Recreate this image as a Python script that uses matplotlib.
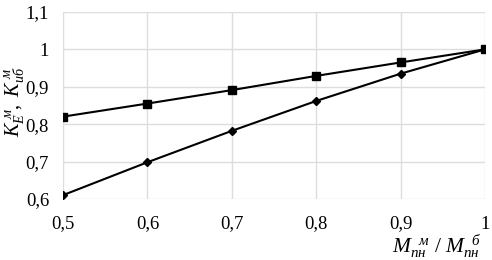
import matplotlib
matplotlib.use("Agg")
import matplotlib.pyplot as plt
from matplotlib.ticker import FuncFormatter

plt.rcParams['font.family'] = ['Liberation Serif', 'DejaVu Serif']
plt.rcParams['mathtext.fontset'] = 'custom'
plt.rcParams['mathtext.rm'] = 'Liberation Serif'
plt.rcParams['mathtext.it'] = 'Liberation Serif:italic'

# data
x = [0.5, 0.6, 0.7, 0.8, 0.9, 1.0]
k_ib = [0.82, 0.855, 0.891, 0.929, 0.965, 1.0]
k_e = [0.61, 0.698, 0.782, 0.862, 0.935, 1.0]
x_ticks = [0.5, 0.6, 0.7, 0.8, 0.9, 1.0]
y_ticks = [0.6, 0.7, 0.8, 0.9, 1.0, 1.1]


def comma(v, pos):
    s = ('%.1f' % v).replace('.', ',')
    if s.endswith(',0'):
        s = s[:-2]
    return s


fig = plt.figure(figsize=(4.92, 2.6), dpi=100)
ax = fig.add_axes([0.128, 0.235, 0.858, 0.719])

ax.plot(x, k_ib, color='black', lw=1.5, marker='s', ms=6)
ax.plot(x, k_e, color='black', lw=1.5, marker='D', ms=4)

ax.set_xlim(0.5, 1.0)
ax.set_ylim(0.6, 1.1)
ax.set_xticks(x_ticks)
ax.set_yticks(y_ticks)
ax.xaxis.set_major_formatter(FuncFormatter(comma))
ax.yaxis.set_major_formatter(FuncFormatter(comma))
ax.grid(True, color='#dddddd', lw=1)
ax.set_axisbelow(True)
for s in ax.spines.values():
    s.set_visible(False)
ax.tick_params(length=0, labelsize=13.5)
ax.tick_params(axis='y', pad=10)
ax.tick_params(axis='x', pad=12)
for lab in ax.get_xticklabels():
    lab.set_clip_on(False)

ax.set_ylabel(r'$K_{Е}^{\ м},\ K_{иб}^{\ м}$', fontsize=14.5)
ax.yaxis.set_label_coords(-0.086, 0.52)
ax.set_xlabel(r'$M_{пн}^{\ \ м}\ /\ M_{пн}^{\ \ б}$', fontsize=15.5)
ax.xaxis.set_label_coords(0.885, -0.255)
ax.xaxis.label.set_va('center')

fig.savefig('out.png', dpi=100)
